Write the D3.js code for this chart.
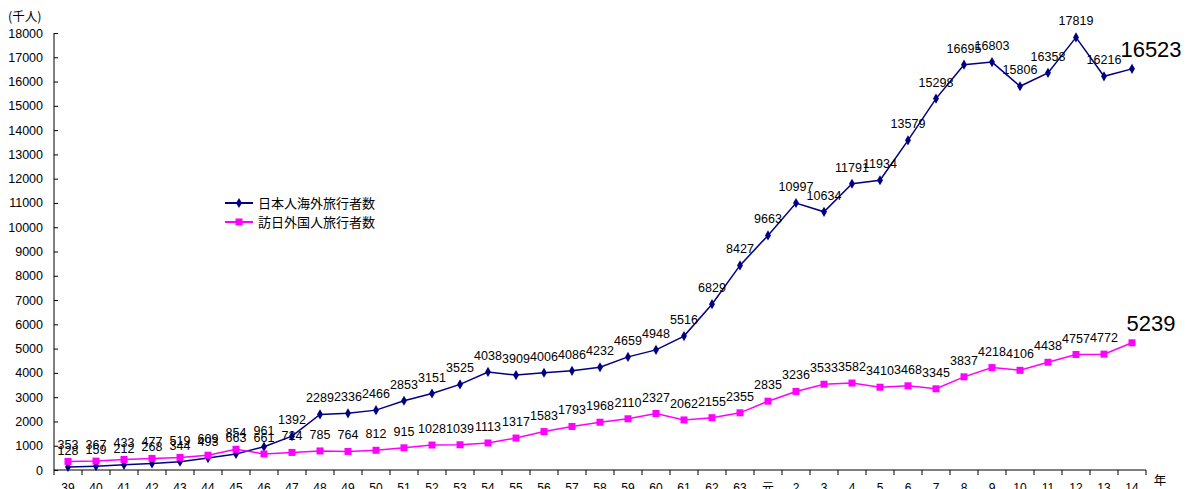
<!DOCTYPE html>
<html><head><meta charset="utf-8">
<script src="https://cdn.jsdelivr.net/npm/d3@7"></script>
<style>
body{margin:0;background:#fff;}
text{font-family:"Liberation Sans",Arial,sans-serif;}
.jp{font-family:"Noto Sans CJK JP","Noto Sans",sans-serif;}
</style></head>
<body>
<svg id="c" width="1188" height="489"></svg>
<script>
const categories = ["39","40","41","42","43","44","45","46","47","48","49","50","51","52","53","54","55","56","57","58","59","60","61","62","63","元","2","3","4","5","6","7","8","9","10","11","12","13","14"];
const outbound = [128,159,212,268,344,493,663,961,1392,2289,2336,2466,2853,3151,3525,4038,3909,4006,4086,4232,4659,4948,5516,6829,8427,9663,10997,10634,11791,11934,13579,15298,16695,16803,15806,16358,17819,16216,16523];
const inbound = [353,367,433,477,519,609,854,661,724,785,764,812,915,1028,1039,1113,1317,1583,1793,1968,2110,2327,2062,2155,2355,2835,3236,3533,3582,3410,3468,3345,3837,4218,4106,4438,4757,4772,5239];
const yTicks = d3.range(0, 18001, 1000);
const seriesNames = ["日本人海外旅行者数","訪日外国人旅行者数"];
const colors = ["#000080","#FF00FF"];

const svg = d3.select("#c");
const x = d3.scaleBand().domain(categories).range([54,1146]);
const y = d3.scaleLinear().domain([0,18000]).range([470,33]);

// y axis
const ya = svg.append("g").attr("transform","translate(54,0)")
  .call(d3.axisLeft(y).tickValues(yTicks).tickSize(-4).tickPadding(11).tickFormat(d3.format("d")));
ya.attr("font-size",null).attr("font-family",null);
ya.select(".domain").attr("d","M0,33V470").attr("stroke","#000");
ya.selectAll("text").style("font-size","12.5px").attr("fill","#000");
ya.selectAll(".tick line").attr("stroke","#000");

// x axis
const xa = svg.append("g").attr("transform","translate(0,470)");
xa.append("line").attr("x1",54).attr("x2",1146).attr("stroke","#000");
const bounds = categories.map(c=>x(c)).concat([x.range()[1]]);
xa.selectAll("line.t").data(bounds).enter().append("line").attr("class","t")
  .attr("x1",d=>d).attr("x2",d=>d).attr("y1",0).attr("y2",5).attr("stroke","#000");
xa.selectAll("text").data(categories).enter().append("text")
  .attr("class",d=>d==="元"?"jp":null)
  .attr("x",d=>x(d)+x.bandwidth()/2).attr("y",22).attr("text-anchor","middle")
  .style("font-size","12px").text(d=>d);
svg.append("text").attr("class","jp").attr("x",1160).attr("y",485).attr("text-anchor","middle").style("font-size","12.5px").text("年");
svg.append("text").attr("class","jp").attr("x",8).attr("y",21).style("font-size","12.5px").text("(千人)");

const cx = d=>x(d)+x.bandwidth()/2;
const line = d3.line().x((d,i)=>cx(categories[i])).y(d=>y(d));
[outbound,inbound].forEach((s,k)=>{
  svg.append("path").datum(s).attr("d",line).attr("fill","none").attr("stroke",colors[k]).attr("stroke-width",1.5);
  const g = svg.append("g");
  if(k===0){
    g.selectAll("path").data(s).enter().append("path")
      .attr("d",d3.symbol(d3.symbolDiamond,30))
      .attr("transform",(d,i)=>`translate(${cx(categories[i])},${y(d)})`).attr("fill",colors[0]);
  } else {
    g.selectAll("rect").data(s).enter().append("rect")
      .attr("x",(d,i)=>cx(categories[i])-3.5).attr("y",d=>y(d)-3.5).attr("width",7).attr("height",7).attr("fill",colors[1]);
  }
  const last = s.length-1;
  svg.append("g").selectAll("text").data(s).enter().append("text")
    .attr("x",(d,i)=>cx(categories[i]) + (i===last?19:0))
    .attr("y",(d,i)=>y(d) - 12)
    .attr("text-anchor","middle")
    .style("font-size",(d,i)=>i===last?"22px":"12.5px")
    .attr("fill","#000")
    .text(d=>d);
});

// legend
const lg = svg.append("g");
seriesNames.forEach((n,k)=>{
  const yy = 203 + k*19;
  lg.append("line").attr("x1",225).attr("x2",253).attr("y1",yy).attr("y2",yy).attr("stroke",colors[k]).attr("stroke-width",2);
  if(k===0) lg.append("path").attr("d",d3.symbol(d3.symbolDiamond,30)).attr("transform",`translate(239,${yy})`).attr("fill",colors[0]);
  else lg.append("rect").attr("x",235.5).attr("y",yy-3.5).attr("width",7).attr("height",7).attr("fill",colors[1]);
  lg.append("text").attr("class","jp").attr("x",258).attr("y",yy+4.5).style("font-size","13px").text(n);
});
</script>
</body></html>
